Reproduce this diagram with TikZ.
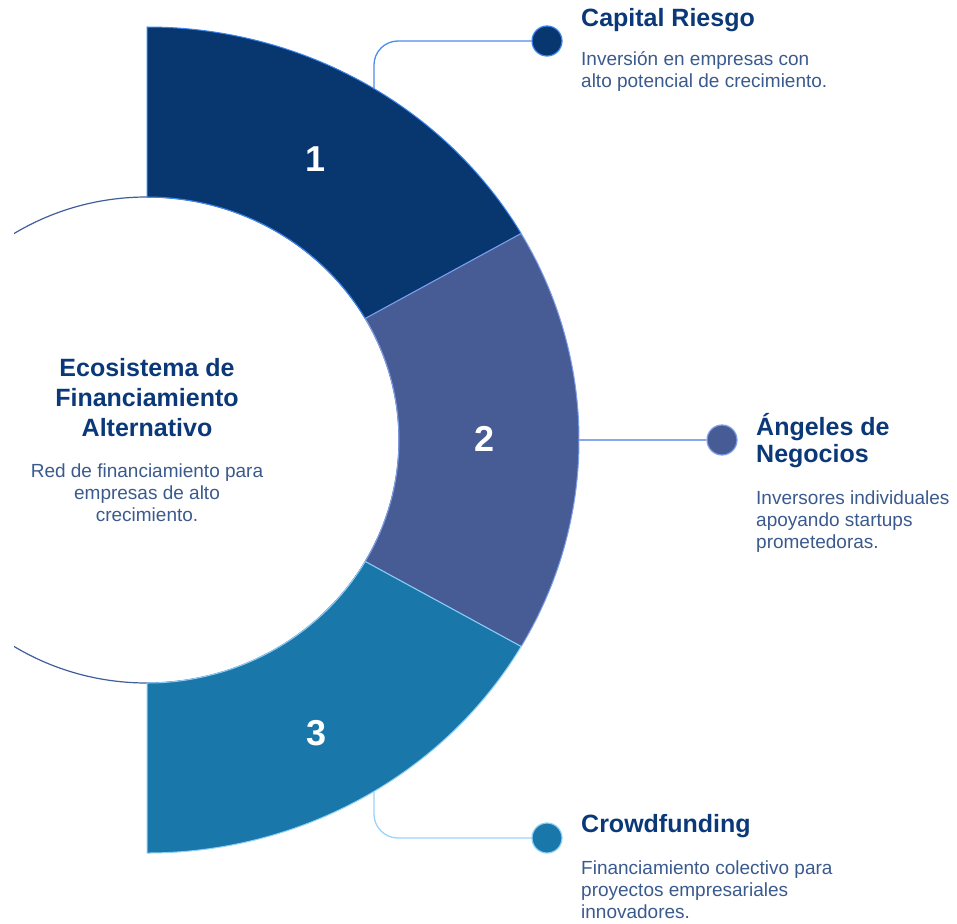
\documentclass[tikz,border=0pt]{standalone}
\usepackage{fontspec}
\setmainfont{Liberation Sans}
\usetikzlibrary{calc}
\definecolor{segA}{HTML}{08366F}
\definecolor{segB}{HTML}{475C94}
\definecolor{segC}{HTML}{1977A9}
\definecolor{edgeA}{HTML}{3B86F0}
\definecolor{edgeB}{HTML}{7E9EEA}
\definecolor{edgeC}{HTML}{8CCFF6}
\definecolor{connA}{HTML}{4C8DEB}
\definecolor{connB}{HTML}{86A6EE}
\definecolor{connC}{HTML}{9AD4F8}
\definecolor{headcol}{HTML}{0A3878}
\definecolor{desccol}{HTML}{3A5A8E}
\definecolor{innerline}{HTML}{3F5E9E}
\begin{document}
\begin{tikzpicture}[x=1pt,y=1pt,
  headtext/.style={inner sep=0pt, text=headcol, align=left, font=\fontsize{25}{27}\selectfont\bfseries},
  desctext/.style={inner sep=0pt, text=desccol, align=left, font=\fontsize{19}{22}\selectfont},
  numtext/.style={inner sep=0pt, text=white, font=\fontsize{36}{36}\selectfont\bfseries},
  dotnode/.style={circle, minimum size=30pt, inner sep=0pt, line width=1.2pt},
  connline/.style={line width=1.3pt, rounded corners=24pt},
  segline/.style={line width=1pt}]
\useasboundingbox (0,0) rectangle (957,-923);
\coordinate (C) at (147,-440);
% inner circle outline
\begin{scope}
\clip (14,0) rectangle (957,-923);
\draw[innerline, line width=1.2pt] (C) ellipse[x radius=252, y radius=243];
\end{scope}
% segments
\filldraw[fill=segA, draw=edgeA, segline] ($(C)+(90:432 and 413)$) arc[start angle=90,end angle=30,x radius=432,y radius=413] -- ($(C)+(30:252 and 243)$) arc[start angle=30,end angle=90,x radius=252,y radius=243] -- cycle;
\filldraw[fill=segB, draw=edgeB, segline] ($(C)+(30:432 and 413)$) arc[start angle=30,end angle=-30,x radius=432,y radius=413] -- ($(C)+(-30:252 and 243)$) arc[start angle=-30,end angle=30,x radius=252,y radius=243] -- cycle;
\filldraw[fill=segC, draw=edgeC, segline] ($(C)+(-30:432 and 413)$) arc[start angle=-30,end angle=-90,x radius=432,y radius=413] -- ($(C)+(-90:252 and 243)$) arc[start angle=-90,end angle=-30,x radius=252,y radius=243] -- cycle;
% numbers
\node[numtext] (n1) at (316,-159) {1};
\node[numtext] (n2) at (485,-439) {2};
\node[numtext] (n3) at (317,-733) {3};
% connector start points
\coordinate (c1) at ($(C)+(58.3:432 and 413)$);
\coordinate (c2) at ($(C)+(0:432 and 413)$);
\coordinate (c3) at ($(C)+(-58.3:432 and 413)$);
% dots
\node[dotnode, fill=segA, draw=edgeA] (d1) at (547,-41) {};
\node[dotnode, fill=segB, draw=edgeB] (d2) at (722,-440) {};
\node[dotnode, fill=segC, draw=edgeC] (d3) at (547,-838) {};
\draw[connA, connline] (c1) |- (d1);
\draw[connB, connline] (c2) -- (d2);
\draw[connC, connline] (c3) |- (d3);
% texts (base anchor = baseline of last line)
\node[headtext, anchor=base west] (h1) at (581,-27) {Capital Riesgo};
\node[desctext, anchor=base west] (b1) at (581,-88) {Inversión en empresas con\\alto potencial de crecimiento.};
\node[headtext, anchor=base west] (h2) at (756,-462) {Ángeles de\\Negocios};
\node[desctext, anchor=base west] (b2) at (756,-548) {Inversores individuales\\apoyando startups\\prometedoras.};
\node[headtext, anchor=base west] (h3) at (581,-832) {Crowdfunding};
\node[desctext, anchor=base west] (b3) at (581,-918) {Financiamiento colectivo para\\proyectos empresariales\\innovadores.};
\node[headtext, align=center, font=\fontsize{25}{30}\selectfont\bfseries, anchor=base] (ht) at (147,-436) {Ecosistema de\\Financiamiento\\Alternativo};
\node[desctext, align=center, anchor=base] (bt) at (147,-521) {Red de financiamiento para\\empresas de alto\\crecimiento.};
\end{tikzpicture}
\end{document}
